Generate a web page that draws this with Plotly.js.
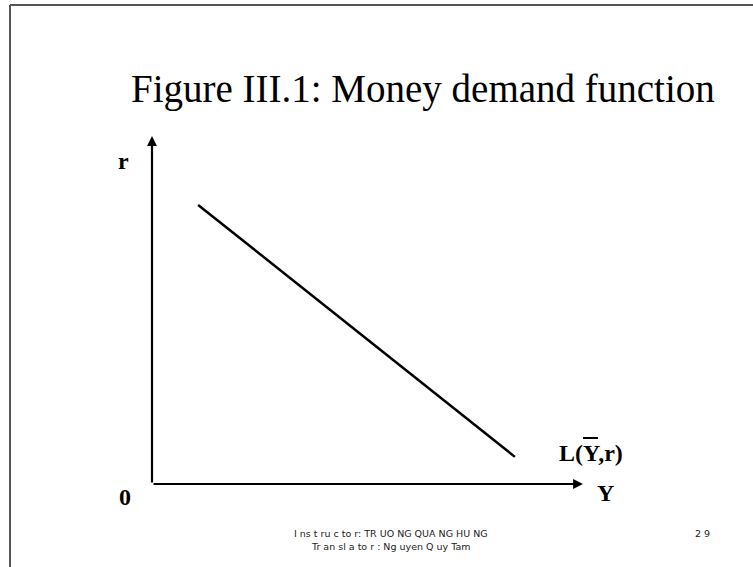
<!DOCTYPE html>
<html>
<head>
<meta charset="utf-8">
<script src="https://cdn.plot.ly/plotly-3.0.1.min.js"></script>
<style>
  html, body { margin: 0; padding: 0; background: #fff; }
  #chart { width: 753px; height: 567px; }
</style>
</head>
<body>
<div id="chart"></div>
<script>
// Money demand curve L(Ybar, r): income on the horizontal axis, interest rate r on the vertical
const demandY = [1.07, 8.42];
const demandR = [8.02, 0.78];

// Axis extent (arrow tips)
const xMax = 10;
const yMax = 10;

const titleText = 'Figure III.1: Money demand function';
const footerLines = ['I ns t ru c to r: TR UO NG QUA NG HU NG', 'Tr an sl a to r : Ng uyen Q uy Tam'];
const pageNumber = '2 9';

// plot-area geometry in pixels
const L = 152, T = 136, W = 753, H = 567;
const plotW = 583 - L, plotH = 484 - T;
const px = v => (v - L) / plotW;          // pixel x -> paper x
const py = v => (484 - v) / plotH;        // pixel y -> paper y

const serif = 'Liberation Serif, Times New Roman, serif';
const sans = 'DejaVu Sans, sans-serif';

const traces = [{
  x: demandY,
  y: demandR,
  type: 'scatter',
  mode: 'lines',
  line: { color: '#000', width: 2.5 },
  hoverinfo: 'skip',
  showlegend: false
}];

function label(x, y, text, font) {
  return { x: px(x), y: py(y), xref: 'paper', yref: 'paper', text: text, showarrow: false,
           xanchor: 'center', yanchor: 'middle', font: font };
}
const bold = { family: serif, size: 24, color: '#000' };
const foot = { family: sans, size: 9.5, color: '#222' };

const annotations = [
  // axes with arrowheads
  { x: xMax, y: 0, ax: 0, ay: 0, xref: 'x', yref: 'y', axref: 'x', ayref: 'y',
    showarrow: true, arrowhead: 2, arrowsize: 0.9, arrowwidth: 2.2, arrowcolor: '#000', text: '' },
  { x: 0, y: yMax, ax: 0, ay: 0, xref: 'x', yref: 'y', axref: 'x', ayref: 'y',
    showarrow: true, arrowhead: 2, arrowsize: 0.9, arrowwidth: 2.2, arrowcolor: '#000', text: '' },
  // title
  label(423, 89, titleText, { family: serif, size: 39, color: '#000' }),
  // axis labels
  label(123, 161, '<b>r</b>', bold),
  label(125, 497, '<b>0</b>', bold),
  label(605, 493, '<b>Y</b>', bold),
  // curve label
  label(591, 453, '<b>L(Y,r)</b>', bold),
  // footer
  label(391, 533, footerLines[0], foot),
  label(391, 546, footerLines[1], foot),
  label(702, 533, pageNumber, foot)
];

const shapes = [
  // slide frame: top and left edges
  { type: 'line', xref: 'paper', yref: 'paper', x0: px(10), x1: px(760), y0: py(5), y1: py(5),
    line: { color: '#555', width: 2 } },
  { type: 'line', xref: 'paper', yref: 'paper', x0: px(10), x1: px(10), y0: py(5), y1: py(570),
    line: { color: '#555', width: 2 } },
  // bar over Y in the curve label
  { type: 'line', xref: 'paper', yref: 'paper', x0: px(583), x1: px(598), y0: py(438), y1: py(438),
    line: { color: '#000', width: 2 } }
];

const layout = {
  width: W, height: H,
  margin: { l: L, r: W - 583, t: T, b: H - 484, pad: 0 },
  paper_bgcolor: '#fff', plot_bgcolor: '#fff',
  xaxis: { range: [0, xMax], showgrid: false, zeroline: false, showticklabels: false,
           ticks: '', showline: false, fixedrange: true },
  yaxis: { range: [0, yMax], showgrid: false, zeroline: false, showticklabels: false,
           ticks: '', showline: false, fixedrange: true },
  annotations: annotations,
  shapes: shapes,
  showlegend: false
};

Plotly.newPlot('chart', traces, layout, { staticPlot: true, displayModeBar: false });
</script>
</body>
</html>
